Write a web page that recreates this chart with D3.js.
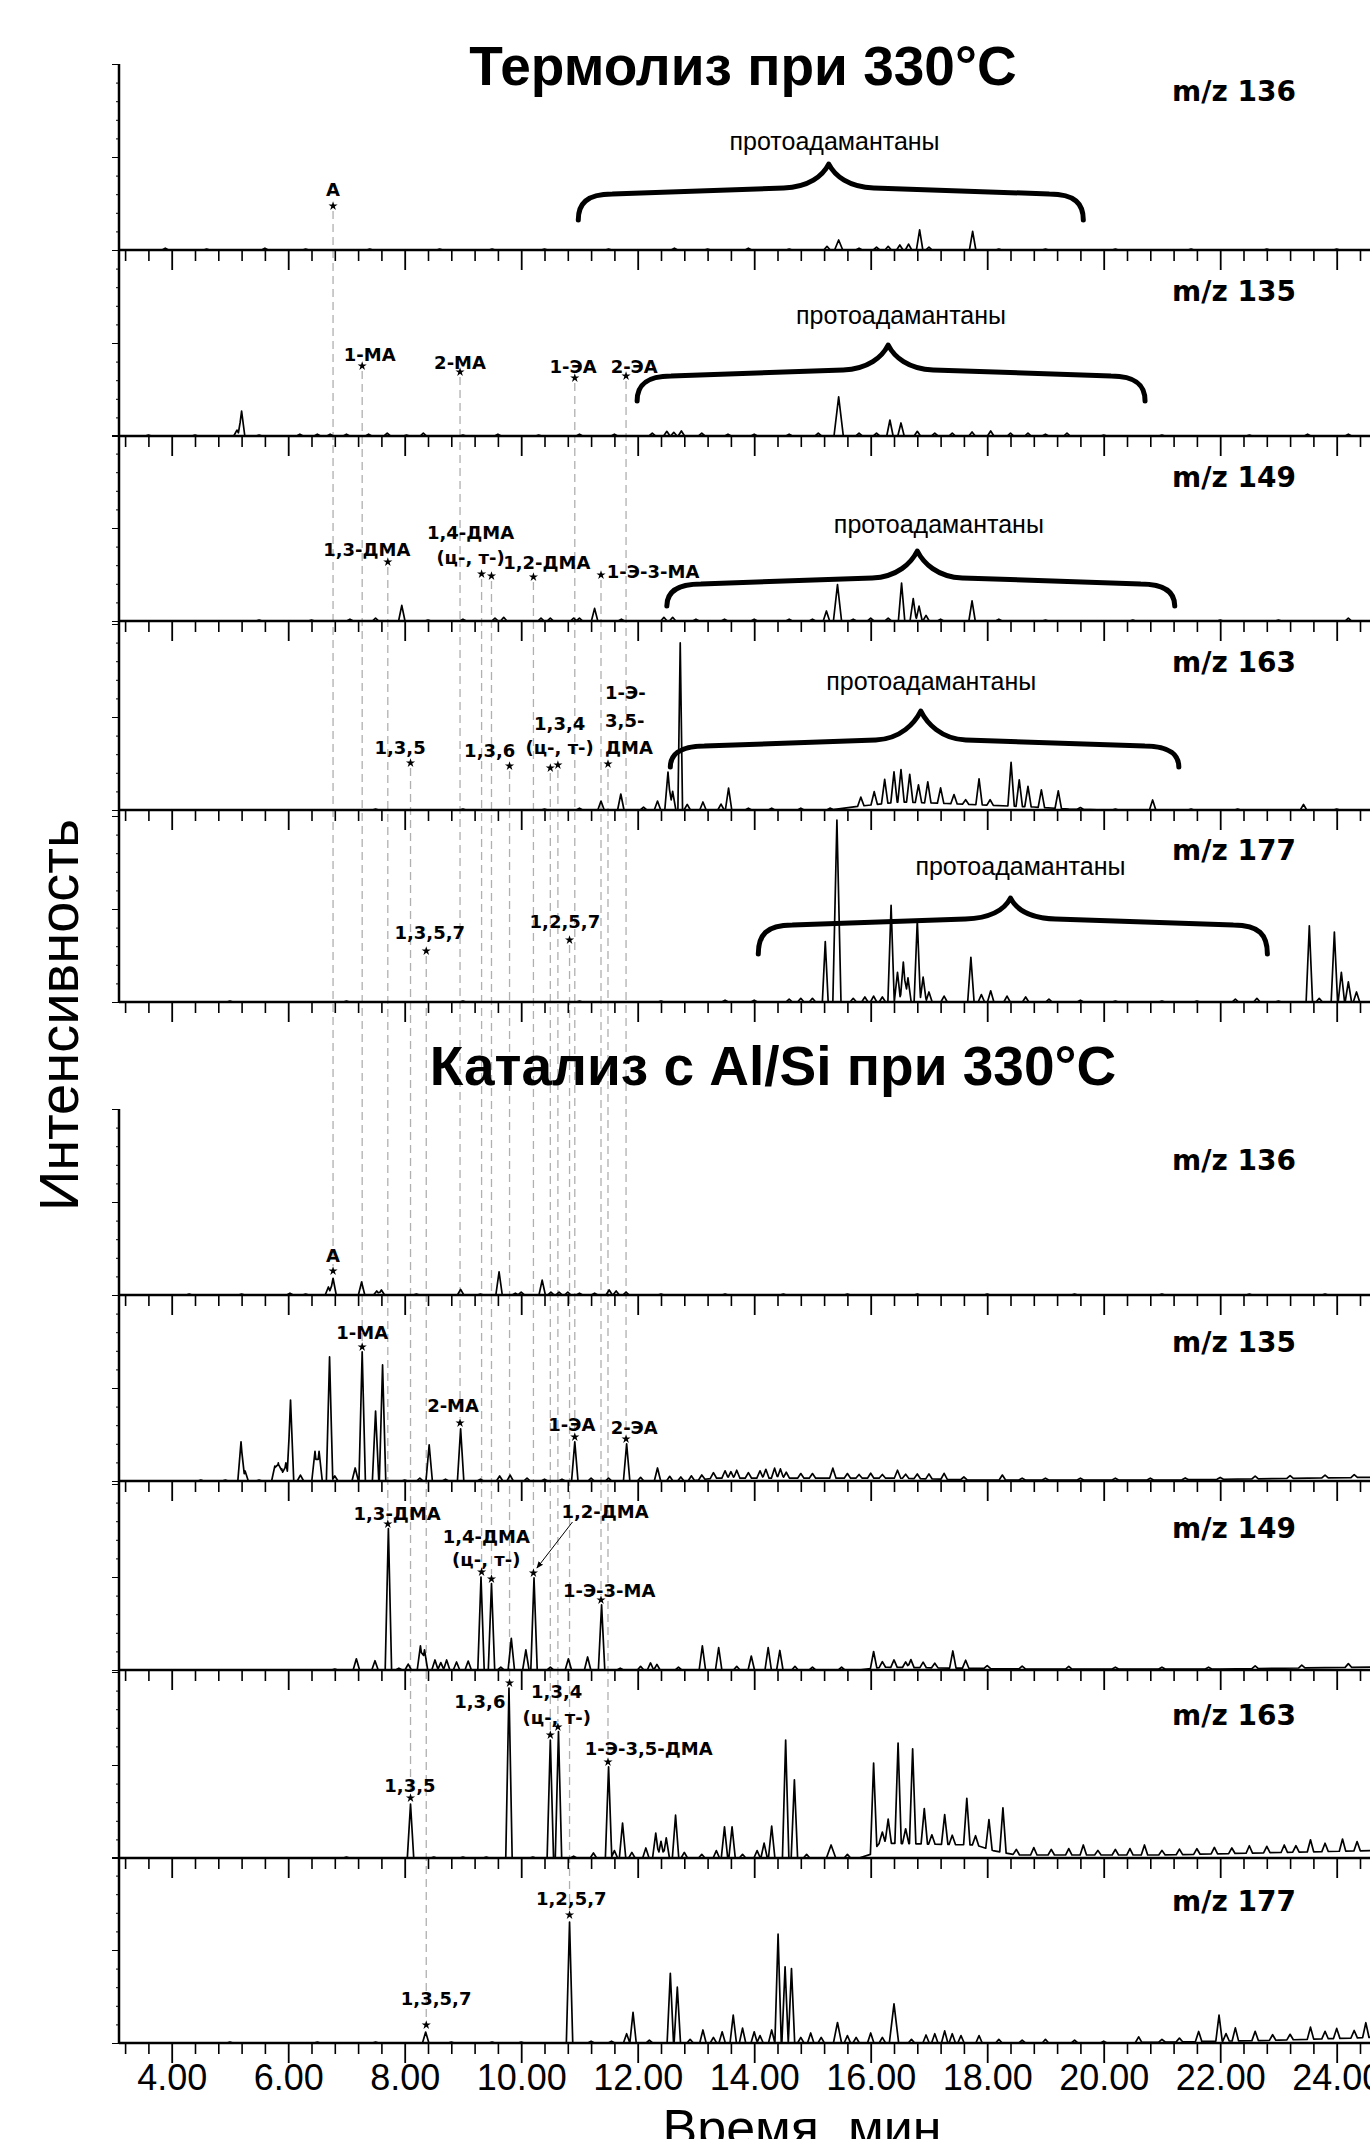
<!DOCTYPE html>
<html>
<head>
<meta charset="utf-8">
<script src="https://cdnjs.cloudflare.com/ajax/libs/d3/7.8.5/d3.min.js"></script>
<style>
  body { margin: 0; background: #fff; }
  svg { display: block; }
</style>
</head>
<body>
<svg id="chart" width="1370" height="2139"></svg>
<script>
// retention time axis, minutes
const TIME_TICKS = [4, 6, 8, 10, 12, 14, 16, 18, 20, 22, 24];
const TIME_LABELS = ["4.00", "6.00", "8.00", "10.00", "12.00", "14.00", "16.00", "18.00", "20.00", "22.00", "24.00"];
const ION_LABELS = ["m/z 136", "m/z 135", "m/z 149", "m/z 163", "m/z 177"];

// peaks: [time (min), relative intensity (% of panel), optional half width (min)]
const thermo136 = [[3.89,1],[4.6,0.5],[5.6,1],[6.3,0.5],[7.4,0.5],[8.6,0.5],[9.5,0.5],[10.4,0.5],[11.5,0.5],[12.63,1],[13.2,0.5],[13.9,1],[14.6,0.5],[15.25,2],[15.45,5.4,0.07],[15.8,1],[16.1,1.5],[16.3,2],[16.5,2.7],[16.65,3.2],[16.84,10.8],[17.0,1.6],[17.75,10],[18.2,0.5],[19.0,0.5],[20.2,0.5],[21.5,0.5],[22.8,0.5],[24.0,0.5]];
const thermo135 = [[3.6,0.5],[4.4,0.5],[5.12,3.2],[5.2,13.4],[5.5,0.5],[6.2,1],[6.5,1],[6.72,1],[7.0,1],[7.38,1],[7.7,1.5],[8.03,0.5],[8.32,1.6],[9.0,0.5],[9.6,1],[10.3,0.5],[11.0,1],[11.6,1],[12.25,1.5],[12.5,2.5],[12.62,2],[12.75,2.7],[13.1,1.5],[13.55,1],[14.0,1],[14.6,1],[15.1,1.5],[15.45,21,0.08],[15.8,1.5],[16.1,1.5],[16.33,8.6],[16.52,7],[16.8,2.5],[17.1,1.5],[17.4,1.6],[17.74,2.2],[18.06,2.7],[18.4,1.6],[18.7,1.6],[19.0,1],[19.37,1.6],[20.0,0.5],[21.0,0.5],[22.5,0.5],[23.5,1],[24.2,1]];
const thermo149 = [[5.5,0.5],[6.4,0.5],[7.06,1],[7.5,1.6],[7.95,8.4],[8.4,0.5],[9.0,1],[9.55,1.6],[9.7,2],[10.34,1.6],[10.5,1.6],[10.9,1.6],[11.0,1.6],[11.26,6.8],[11.72,1],[12.45,2],[12.6,2],[13.0,1],[13.49,1],[14.0,1],[14.6,1],[15.0,1],[15.24,5.4],[15.43,19.6,0.07],[15.7,1],[16.0,1.5],[16.3,1.5],[16.53,20.4],[16.73,12],[16.83,8],[16.95,3],[17.2,1],[17.74,10.8],[18.2,1],[19.0,0.5],[20.5,0.5],[22.0,0.5],[23.0,0.5],[24.2,1.6]];
const thermo163 = [[7.5,0.5],[9.0,0.5],[10.4,0.5],[11.0,1],[11.37,4.8],[11.71,8.6],[12.1,1.5],[12.34,4.8],[12.52,20.4],[12.6,10],[12.73,89.8,0.04],[12.85,3],[13.12,4.3],[13.43,3.2],[13.56,11.8],[13.9,1],[14.3,1],[14.8,1],[15.3,1],[15.83,4.8],[16.06,7],[16.24,13],[16.4,16.5],[16.52,17.5],[16.67,15],[16.82,9.5],[16.98,11.3],[17.2,8.3],[17.43,5],[17.63,2.5],[17.86,14],[18.05,3],[18.41,23.5],[18.55,14.3],[18.7,11],[18.93,9.5],[19.22,9.5],[19.6,1],[20.2,0.5],[20.84,5.4],[21.5,0.5],[22.3,0.5],[23.43,3],[24.0,0.5]];
const thermo177 = [[5.0,0.5],[7.0,0.5],[9.0,0.5],[11.0,0.5],[12.4,0.5],[13.5,1],[14.0,1],[14.6,1.6],[14.8,2],[15.0,2],[15.22,32.5,0.05],[15.42,97.8,0.07],[15.7,2],[15.9,2.7],[16.05,3.2],[16.2,2.7],[16.35,52],[16.46,16],[16.56,21.5],[16.64,13],[16.8,44],[16.9,13.4],[17.0,5.4],[17.26,3.2],[17.72,24],[17.9,4],[18.06,6],[18.34,3.2],[18.66,2.7],[19.06,1.6],[19.6,1],[20.2,0.5],[21.0,0.5],[21.6,0.5],[22.26,1.6],[22.63,2],[23.0,0.5],[23.53,41],[23.7,2],[23.96,37.6],[24.08,16],[24.2,10.8],[24.34,5.4]];

const cat136 = [[4.3,0.5],[5.2,0.5],[6.03,1],[6.3,0.5],[6.69,4.3],[6.77,9],[7.26,7],[7.52,2.2],[7.6,2.7],[8.2,0.5],[8.96,3],[9.3,0.5],[9.62,12.4],[9.9,1],[10.0,1.5],[10.36,8],[10.51,1.6],[10.65,1.6],[10.8,1.6],[11.0,1],[11.26,1],[11.51,2.7],[11.63,2.2],[11.8,1.6],[12.4,0.5],[13.5,0.5],[14.5,0.5],[15.6,0.5],[16.8,0.5],[18.0,0.5],[19.5,0.5],[21.0,0.5],[22.5,0.5],[23.8,0.5]];
const cat135 = [[4.5,0.5],[4.92,0.5],[5.19,21],[5.26,5.4],[5.5,0.5],[5.77,8],[5.83,9.7],[5.89,6.5],[5.96,9.7],[6.04,43.5],[6.21,3.2],[6.46,16],[6.53,16],[6.71,66.7],[6.8,2.7],[7.15,7],[7.27,69.4],[7.5,37.6],[7.62,62.4],[8.0,0.5],[8.26,1.6],[8.42,19.4],[8.7,1],[8.96,28],[9.3,1],[9.63,2.7],[9.81,3.2],[10.1,1.6],[10.4,1],[10.7,1],[10.92,21],[11.2,1.6],[11.5,1.6],[11.81,20],[12.05,2],[12.34,7],[12.55,2.5],[12.74,2.2],[12.92,2.7],[13.1,2.5],[13.3,3],[13.5,4],[13.6,3.5],[13.7,4.3],[13.9,3],[14.1,4],[14.2,4.8],[14.35,5.4],[14.45,5],[14.55,3.2],[14.8,2.5],[15.0,2.5],[15.35,5.4],[15.6,2.5],[15.8,2],[16.0,2.7],[16.2,2],[16.46,4.3],[16.6,2.2],[16.8,2.5],[17.0,2.7],[17.26,3.2],[17.6,1.5],[18.26,2.7],[18.6,1],[19.0,1],[19.6,1],[20.2,1],[20.8,1],[21.4,1],[22.0,1],[22.6,1.5],[23.2,1.5],[23.8,1.5],[24.3,1.5]];
const cat149 = [[6.8,0.5],[7.17,6],[7.49,5],[7.72,76],[7.9,1],[8.06,3.2],[8.27,13],[8.34,10.8],[8.52,5.4],[8.62,4],[8.72,5.4],[8.89,4.3],[9.09,4.8],[9.31,50],[9.49,46.5],[9.65,1.5],[9.83,17],[10.08,10.8],[10.22,49.5],[10.5,1.5],[10.81,6],[11.14,7],[11.38,35],[11.7,1],[12.05,2],[12.22,3.8],[12.33,3],[12.7,1.5],[13.11,13],[13.39,12],[13.7,2],[13.95,7.5],[14.24,12],[14.44,10.5],[14.7,2],[15.0,1.5],[15.5,1.5],[16.05,9],[16.2,3],[16.4,4],[16.6,3],[16.69,4.3],[16.9,3],[17.1,2.5],[17.41,9.2],[17.63,4.3],[18.0,1.5],[18.6,1.5],[19.4,1.5],[20.2,1],[21.0,1],[21.8,1],[22.6,1.5],[23.4,1.5],[24.2,2]];
const cat163 = [[7.0,0.5],[8.1,29],[8.5,0.5],[9.0,0.5],[9.4,0.5],[9.79,91.4],[10.2,0.5],[10.5,63.4],[10.64,68],[10.9,1],[11.24,2.7],[11.5,49],[11.6,4],[11.74,18.8],[11.9,3],[12.14,5.4],[12.31,13.4],[12.4,9],[12.49,10.8],[12.65,23],[12.8,3],[13.1,2],[13.35,4],[13.49,16.7],[13.62,16.7],[13.8,2],[14.05,4],[14.17,8],[14.3,17.2],[14.54,63.4],[14.69,42],[14.9,2],[15.32,7,0.08],[15.6,2],[16.05,47],[16.2,6],[16.3,13],[16.47,54],[16.6,8],[16.72,51],[16.92,19],[17.05,5],[17.27,16],[17.4,5],[17.65,25],[17.8,5],[18.03,16],[18.27,24],[18.5,3],[18.8,4],[19.1,3],[19.4,3.5],[19.65,5.4],[19.9,2.5],[20.2,3],[20.45,3.5],[20.7,5.4],[21.0,2.5],[21.3,3],[21.6,3],[21.9,3.5],[22.2,3],[22.5,4],[22.8,3.5],[23.1,4],[23.3,3.5],[23.55,6.5],[23.8,4.5],[24.1,6.5],[24.35,5]];
const cat177 = [[5.0,0.5],[6.5,0.5],[7.5,0.5],[8.36,5.9],[8.8,0.5],[9.5,0.5],[10.0,0.5],[10.83,65],[11.2,1],[11.55,1],[11.81,5],[11.92,16.5],[12.2,1.5],[12.56,37.5],[12.68,30],[12.9,2],[13.12,7],[13.3,3],[13.45,6],[13.64,15],[13.8,8],[14.0,6],[14.1,4],[14.3,7],[14.41,58.5],[14.53,41],[14.64,40],[14.8,3],[14.97,5.4],[15.15,3],[15.43,11,0.07],[15.6,4],[15.75,3],[16.0,5.4],[16.2,3],[16.4,21,0.08],[16.7,2],[16.95,4.3],[17.1,5],[17.27,6.5],[17.4,5],[17.55,4],[17.86,4],[18.2,2],[18.6,1.5],[19.0,2],[19.5,1.5],[20.0,1],[20.6,3],[21.0,1.5],[21.3,2],[21.63,5.4],[21.98,14],[22.1,4],[22.26,7],[22.6,5],[22.9,3],[23.2,3],[23.55,6.5],[23.8,4],[24.0,5.4],[24.3,4],[24.5,8]];

// slow baseline drift: [time, level %]
const thermo163Drift = [[3.1,0],[15.3,0],[15.8,2],[16.5,4.3],[17.3,3.5],[17.9,2.7],[18.8,1.6],[19.4,0.5],[20,0],[24.6,0]];
const cat135Drift = [[3.1,0],[12.9,0],[13.3,1.5],[16.5,1.5],[17.8,0.5],[21,0.5],[24.6,2]];
const cat149Drift = [[3.1,0],[15.8,0],[16.2,1.5],[17.5,1],[19,0.5],[22,0.5],[24.6,1.6]];
const cat163Drift = [[3.1,0],[15.8,0],[16.0,2],[16.15,8],[17.8,7],[18.1,4],[18.5,1.6],[21,1.6],[24.6,4]];
const cat177Drift = [[3.1,0],[20,0],[23,1.5],[24.6,3]];

// identified compounds: retention time, star height above baseline in the top and bottom panel
const compounds = [
  { t: 6.77,  top: [0, 44], bottom: [5, 24] },   // А
  { t: 7.27,  top: [1, 70], bottom: [6, 134] },  // 1-МА
  { t: 8.95,  top: [1, 64], bottom: [6, 58] },   // 2-МА
  { t: 10.92, top: [1, 58], bottom: [6, 44] },   // 1-ЭА
  { t: 11.80, top: [1, 60], bottom: [6, 42] },   // 2-ЭА
  { t: 7.71,  top: [2, 59], bottom: [7, 146] },  // 1,3-ДМА
  { t: 9.32,  top: [2, 47], bottom: [7, 98] },   // 1,4-ДМА ц
  { t: 9.49,  top: [2, 45], bottom: [7, 91] },   // 1,4-ДМА т
  { t: 10.21, top: [2, 44], bottom: [7, 97] },   // 1,2-ДМА
  { t: 11.37, top: [2, 46], bottom: [7, 70] },   // 1-Э-3-МА
  { t: 8.10,  top: [3, 47], bottom: [8, 60] },   // 1,3,5
  { t: 9.80,  top: [3, 44], bottom: [8, 175] },  // 1,3,6
  { t: 10.50, top: [3, 42], bottom: [8, 123] },  // 1,3,4 ц
  { t: 10.63, top: [3, 45], bottom: [8, 131] },  // 1,3,4 т
  { t: 11.49, top: [3, 46], bottom: [8, 96] },   // 1-Э-3,5-ДМА
  { t: 8.37,  top: [4, 51], bottom: [9, 18] },   // 1,3,5,7
  { t: 10.83, top: [4, 62], bottom: [9, 128] }   // 1,2,5,7
];

const labels = [
  { p: 0, lines: ["А"], t: 6.77, dy: [54] },
  { p: 1, lines: ["1-МА"], t: 7.40, dy: [75] },
  { p: 1, lines: ["2-МА"], t: 8.95, dy: [67] },
  { p: 1, lines: ["1-ЭА"], t: 10.89, dy: [63] },
  { p: 1, lines: ["2-ЭА"], t: 11.94, dy: [63] },
  { p: 2, lines: ["1,3-ДМА"], t: 7.35, dy: [65] },
  { p: 2, lines: ["1,4-ДМА", "(ц-, т-)"], t: 9.13, dy: [82, 57] },
  { p: 2, lines: ["1,2-ДМА"], t: 10.44, dy: [52] },
  { p: 2, lines: ["1-Э-3-МА"], t: 11.47, dy: [43], anchor: "start" },
  { p: 3, lines: ["1,3,5"], t: 7.92, dy: [56] },
  { p: 3, lines: ["1,3,6"], t: 9.46, dy: [53] },
  { p: 3, lines: ["1,3,4", "(ц-, т-)"], t: 10.66, dy: [80, 56] },
  { p: 3, lines: ["1-Э-", "3,5-", "ДМА"], t: 11.44, dy: [111, 83, 56], anchor: "start" },
  { p: 4, lines: ["1,3,5,7"], t: 8.43, dy: [63] },
  { p: 4, lines: ["1,2,5,7"], t: 10.75, dy: [74] },
  { p: 5, lines: ["А"], t: 6.77, dy: [33] },
  { p: 6, lines: ["1-МА"], t: 7.27, dy: [142] },
  { p: 6, lines: ["2-МА"], t: 8.83, dy: [69] },
  { p: 6, lines: ["1-ЭА"], t: 10.87, dy: [50] },
  { p: 6, lines: ["2-ЭА"], t: 11.94, dy: [47] },
  { p: 7, lines: ["1,3-ДМА"], t: 7.87, dy: [150] },
  { p: 7, lines: ["1,4-ДМА", "(ц-, т-)"], t: 9.40, dy: [127, 104] },
  { p: 7, lines: ["1,2-ДМА"], t: 11.44, dy: [152] },
  { p: 7, lines: ["1-Э-3-МА"], t: 11.51, dy: [73] },
  { p: 8, lines: ["1,3,5"], t: 8.09, dy: [66] },
  { p: 8, lines: ["1,3,6"], t: 9.29, dy: [150] },
  { p: 8, lines: ["1,3,4", "(ц-, т-)"], t: 10.61, dy: [160, 134] },
  { p: 8, lines: ["1-Э-3,5-ДМА"], t: 12.19, dy: [103] },
  { p: 9, lines: ["1,3,5,7"], t: 8.54, dy: [38] },
  { p: 9, lines: ["1,2,5,7"], t: 10.86, dy: [138] }
];

// "протоадамантаны" braces: start, end, tip times and heights above baseline
const braces = [
  { p: 0, t1: 10.98, t2: 19.65, tp: 15.28, yEnd: 30, yArm: 56, yPeak: 86, text: 100, tt: 15.38 },
  { p: 1, t1: 11.99, t2: 20.71, tp: 16.30, yEnd: 35, yArm: 60, yPeak: 91, text: 112, tt: 16.52 },
  { p: 2, t1: 12.50, t2: 21.22, tp: 16.80, yEnd: 15, yArm: 37, yPeak: 70, text: 88, tt: 17.17 },
  { p: 3, t1: 12.56, t2: 21.29, tp: 16.86, yEnd: 43, yArm: 64, yPeak: 99, text: 120, tt: 17.04 },
  { p: 4, t1: 14.07, t2: 22.81, tp: 18.40, yEnd: 48, yArm: 77, yPeak: 104, text: 127, tt: 18.57 }
];

const panels = [
  { peaks: thermo136, drift: null, base: 250, ion: ION_LABELS[0], ionDy: 149 },
  { peaks: thermo135, drift: null, base: 436, ion: ION_LABELS[1], ionDy: 135 },
  { peaks: thermo149, drift: null, base: 621, ion: ION_LABELS[2], ionDy: 134 },
  { peaks: thermo163, drift: thermo163Drift, base: 810, ion: ION_LABELS[3], ionDy: 138 },
  { peaks: thermo177, drift: null, base: 1002, ion: ION_LABELS[4], ionDy: 142 },
  { peaks: cat136, drift: null, base: 1295, ion: ION_LABELS[0], ionDy: 125 },
  { peaks: cat135, drift: cat135Drift, base: 1481, ion: ION_LABELS[1], ionDy: 129 },
  { peaks: cat149, drift: cat149Drift, base: 1670, ion: ION_LABELS[2], ionDy: 132 },
  { peaks: cat163, drift: cat163Drift, base: 1858, ion: ION_LABELS[3], ionDy: 133 },
  { peaks: cat177, drift: cat177Drift, base: 2043, ion: ION_LABELS[4], ionDy: 132 }
];

const PANEL_H = 186;
const AXIS_X = 119;
const T0 = 3.1, T1 = 24.6;
const HALF_W = 0.055;
const BOLD = "'DejaVu Sans', Verdana, sans-serif";
const ARIAL = "'Liberation Sans', Arial, sans-serif";

const svg = d3.select("#chart");
const x = d3.scaleLinear().domain([4, 24]).range([171.7, 1336.7]);
panels.forEach(p => {
  p.y = d3.scaleLinear().domain([0, 100]).range([p.base, p.base - PANEL_H]);
});

// sum of narrow triangular peaks over a drifting baseline
function tracePoints(peaks, drift) {
  const driftAt = drift
    ? d3.scaleLinear().domain(drift.map(d => d[0])).range(drift.map(d => d[1])).clamp(true)
    : () => 0;
  const ts = new Set([T0, T1]);
  peaks.forEach(([t, h, w = HALF_W]) => { ts.add(t - w); ts.add(t); ts.add(t + w); });
  if (drift) drift.forEach(d => ts.add(d[0]));
  return Array.from(ts)
    .filter(t => t >= T0 && t <= T1)
    .sort(d3.ascending)
    .map(t => [t, driftAt(t) + d3.sum(peaks, ([pt, h, w = HALF_W]) => Math.max(0, h * (1 - Math.abs(t - pt) / w)))]);
}

// dashed guide lines from the top star to the bottom star
svg.append("g")
  .selectAll("line")
  .data(compounds)
  .join("line")
  .attr("x1", d => x(d.t))
  .attr("x2", d => x(d.t))
  .attr("y1", d => panels[d.top[0]].base - d.top[1] + 5)
  .attr("y2", d => panels[d.bottom[0]].base - d.bottom[1] - 5)
  .attr("stroke", "#b0b0b0")
  .attr("stroke-width", 1.3)
  .attr("stroke-dasharray", "8,5");

// left axes, one per block
[[panels[0], panels[4]], [panels[5], panels[9]]].forEach(([a, b]) => {
  svg.append("line")
    .attr("x1", AXIS_X).attr("x2", AXIS_X)
    .attr("y1", a.base - PANEL_H).attr("y2", b.base)
    .attr("stroke", "#000").attr("stroke-width", 2.5);
});

const minorTicks = d3.range(8, 62).filter(i => i % 5 !== 0).map(i => i * 0.4);

panels.forEach((p, i) => {
  const g = svg.append("g");

  // y ticks
  g.append("g")
    .attr("transform", `translate(${AXIS_X},0)`)
    .call(d3.axisLeft(p.y).tickValues(d3.range(10, 100, 10).filter(v => v !== 50)).tickSize(3).tickFormat(""))
    .call(s => s.select(".domain").remove());
  g.append("g")
    .attr("transform", `translate(${AXIS_X},0)`)
    .call(d3.axisLeft(p.y).tickValues([0, 50, 100]).tickSize(7).tickFormat(""))
    .call(s => s.select(".domain").remove());

  // baseline with time ticks
  g.append("line")
    .attr("x1", AXIS_X).attr("x2", 1372)
    .attr("y1", p.base).attr("y2", p.base)
    .attr("stroke", "#000").attr("stroke-width", 2.5);
  g.append("g")
    .attr("transform", `translate(0,${p.base})`)
    .call(d3.axisBottom(x).tickValues(minorTicks).tickSize(11).tickFormat(""))
    .call(s => s.select(".domain").remove())
    .selectAll("line").attr("stroke-width", 1.6);
  const major = g.append("g")
    .attr("transform", `translate(0,${p.base})`)
    .call(d3.axisBottom(x).tickValues(TIME_TICKS).tickSize(20)
      .tickFormat((d, k) => i === panels.length - 1 ? TIME_LABELS[k] : ""))
    .call(s => s.select(".domain").remove());
  major.selectAll("line").attr("stroke-width", 1.8);
  major.selectAll("text")
    .attr("font-family", ARIAL)
    .attr("font-size", 36)
    .attr("y", 21)
    .attr("fill", "#000");

  // chromatogram
  g.append("path")
    .datum(tracePoints(p.peaks, p.drift))
    .attr("fill", "none")
    .attr("stroke", "#000")
    .attr("stroke-width", 1.7)
    .attr("stroke-linejoin", "round")
    .attr("d", d3.line().x(d => x(d[0])).y(d => p.y(d[1])));

  // ion label
  g.append("text")
    .attr("x", 1172)
    .attr("y", p.base - p.ionDy)
    .attr("font-family", BOLD)
    .attr("font-weight", "bold")
    .attr("font-size", 28)
    .text(p.ion);
});

// braces
function bracePath(b) {
  const base = panels[b.p].base;
  const x1 = x(b.t1), x2 = x(b.t2), xp = x(b.tp);
  const yE = base - b.yEnd, yA = base - b.yArm, yP = base - b.yPeak;
  const path = d3.path();
  path.moveTo(x1, yE);
  path.bezierCurveTo(x1, yA + 10, x1 + 8, yA, x1 + 34, yA);
  path.lineTo(xp - 45, yA - 6);
  path.bezierCurveTo(xp - 20, yA - 7, xp - 6, yP + 12, xp, yP);
  path.bezierCurveTo(xp + 6, yP + 12, xp + 20, yA - 7, xp + 45, yA - 6);
  path.lineTo(x2 - 34, yA);
  path.bezierCurveTo(x2 - 8, yA, x2, yA + 10, x2, yE);
  return path.toString();
}

svg.append("g")
  .selectAll("path")
  .data(braces)
  .join("path")
  .attr("d", bracePath)
  .attr("fill", "none")
  .attr("stroke", "#000")
  .attr("stroke-width", 5)
  .attr("stroke-linecap", "round")
  .attr("stroke-linejoin", "round");

svg.append("g")
  .selectAll("text")
  .data(braces)
  .join("text")
  .attr("x", d => x(d.tt))
  .attr("y", d => panels[d.p].base - d.text)
  .attr("text-anchor", "middle")
  .attr("font-family", ARIAL)
  .attr("font-size", 25)
  .text("протоадамантаны");

// stars on identified peaks
const starSymbol = d3.symbol().type(d3.symbolStar).size(26);
const stars = compounds.flatMap(c => [[c.t, c.top], [c.t, c.bottom]]);
svg.append("g")
  .selectAll("path")
  .data(stars)
  .join("path")
  .attr("transform", d => `translate(${x(d[0])},${panels[d[1][0]].base - d[1][1]})`)
  .attr("d", starSymbol)
  .attr("fill", "#000");

// compound labels
const labelG = svg.append("g")
  .attr("font-family", BOLD)
  .attr("font-weight", "bold")
  .attr("font-size", 18);
labels.forEach(l => {
  l.lines.forEach((line, k) => {
    labelG.append("text")
      .attr("x", x(l.t))
      .attr("y", panels[l.p].base - l.dy[k])
      .attr("text-anchor", l.anchor || "middle")
      .text(line);
  });
});

// pointer for 1,2-ДМА in the catalysis panel
svg.append("defs").append("marker")
  .attr("id", "arrow")
  .attr("viewBox", "0 0 10 10")
  .attr("refX", 9).attr("refY", 5)
  .attr("markerWidth", 7).attr("markerHeight", 7)
  .attr("orient", "auto")
  .append("path").attr("d", "M0,1L10,5L0,9Z").attr("fill", "#000");
svg.append("line")
  .attr("x1", x(10.88)).attr("y1", panels[7].base - 148)
  .attr("x2", x(10.27)).attr("y2", panels[7].base - 102)
  .attr("stroke", "#000").attr("stroke-width", 1)
  .attr("marker-end", "url(#arrow)");

// titles
svg.append("text")
  .attr("x", 743).attr("y", 85)
  .attr("text-anchor", "middle")
  .attr("font-family", ARIAL).attr("font-weight", "bold").attr("font-size", 55)
  .text("Термолиз при 330°C");
svg.append("text")
  .attr("x", 773).attr("y", 1085)
  .attr("text-anchor", "middle")
  .attr("font-family", ARIAL).attr("font-weight", "bold").attr("font-size", 55)
  .text("Катализ с Al/Si при 330°C");

// axis titles
svg.append("text")
  .attr("transform", "translate(78,1015) rotate(-90)")
  .attr("text-anchor", "middle")
  .attr("font-family", ARIAL).attr("font-size", 56)
  .text("Интенсивность");
svg.append("text")
  .attr("x", 802).attr("y", 2146)
  .attr("text-anchor", "middle")
  .attr("font-family", ARIAL).attr("font-size", 52)
  .text("Время, мин");
</script>
</body>
</html>
